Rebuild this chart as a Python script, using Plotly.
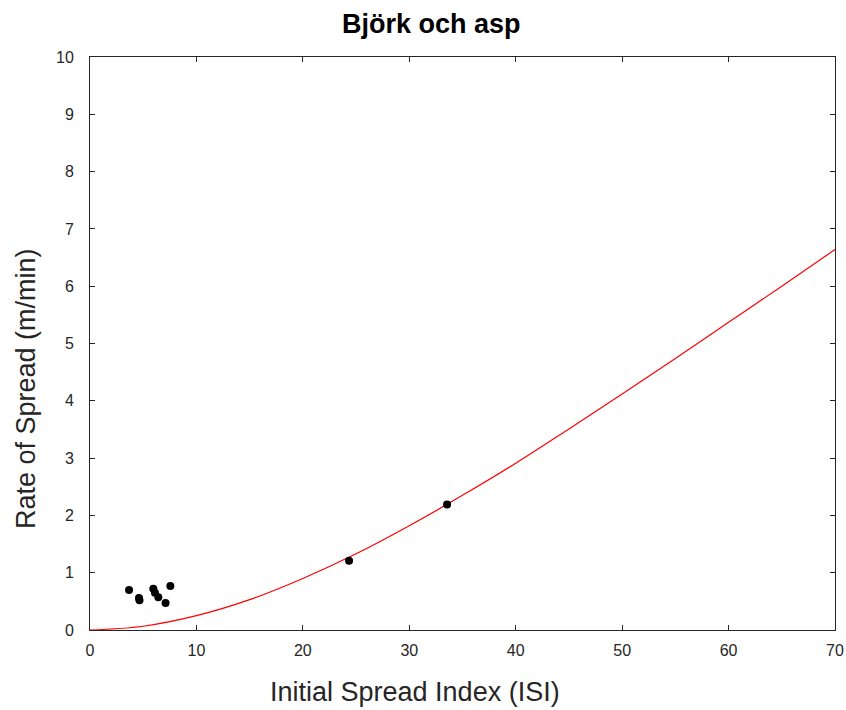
import plotly.graph_objects as go

# Observed fires: Initial Spread Index vs. rate of spread
obs_isi = [3.67, 4.6, 4.65, 5.95, 6.1, 6.42, 7.1, 7.55, 24.34, 33.55]
obs_ros = [0.70, 0.56, 0.52, 0.72, 0.65, 0.57, 0.47, 0.77, 1.21, 2.19]

# Fitted spread curve
curve_isi = [0, 5, 10, 15, 20, 25, 30, 35, 40, 45, 50, 55, 60, 65, 70]
curve_ros = [0, 0.066, 0.25, 0.53, 0.90, 1.33, 1.82, 2.35, 2.91, 3.51,
             4.12, 4.74, 5.37, 6.00, 6.64]

x_ticks = [0, 10, 20, 30, 40, 50, 60, 70]
y_ticks = [0, 1, 2, 3, 4, 5, 6, 7, 8, 9, 10]

title_text = "<b>Björk och asp</b>"
x_label = "Initial Spread Index (ISI)"
y_label = "Rate of Spread (m/min)"

font_family = "Liberation Sans, Arial, Helvetica, sans-serif"
axis_color = "#262626"

fig = go.Figure()
fig.add_trace(go.Scatter(
    x=curve_isi, y=curve_ros, mode="lines",
    line=dict(color="#ff0000", width=1.2, shape="spline"),
    showlegend=False, hoverinfo="skip",
))
fig.add_trace(go.Scatter(
    x=obs_isi, y=obs_ros, mode="markers",
    marker=dict(color="black", size=8),
    showlegend=False,
))

axis_common = dict(
    showgrid=False, zeroline=False, automargin=False,
    showline=True, linecolor=axis_color, linewidth=1,
    mirror="ticks", ticks="inside", ticklen=5, tickwidth=1,
    tickcolor=axis_color,
    tickfont=dict(family=font_family, size=16, color=axis_color),
)

fig.update_layout(
    width=846, height=710,
    margin=dict(l=90, r=11, t=57, b=80),
    paper_bgcolor="white", plot_bgcolor="white",
    xaxis=dict(range=[0, 70], tickvals=x_ticks, ticklabelstandoff=6,
               **axis_common),
    yaxis=dict(range=[0, 10], tickvals=y_ticks, ticklabelstandoff=12,
               **axis_common),
    annotations=[
        dict(text=title_text, xref="paper", yref="paper",
             x=0.459, y=1.0576, xanchor="center", yanchor="middle",
             showarrow=False,
             font=dict(family=font_family, size=27, color="black")),
        dict(text=x_label, xref="paper", yref="paper",
             x=0.436, y=-0.108, xanchor="center", yanchor="middle",
             showarrow=False,
             font=dict(family=font_family, size=27, color=axis_color)),
        dict(text=y_label, xref="paper", yref="paper",
             x=-0.0859, y=0.4206, xanchor="center", yanchor="middle",
             textangle=-90, showarrow=False,
             font=dict(family=font_family, size=27, color=axis_color)),
    ],
)

fig.write_html("out.html")
